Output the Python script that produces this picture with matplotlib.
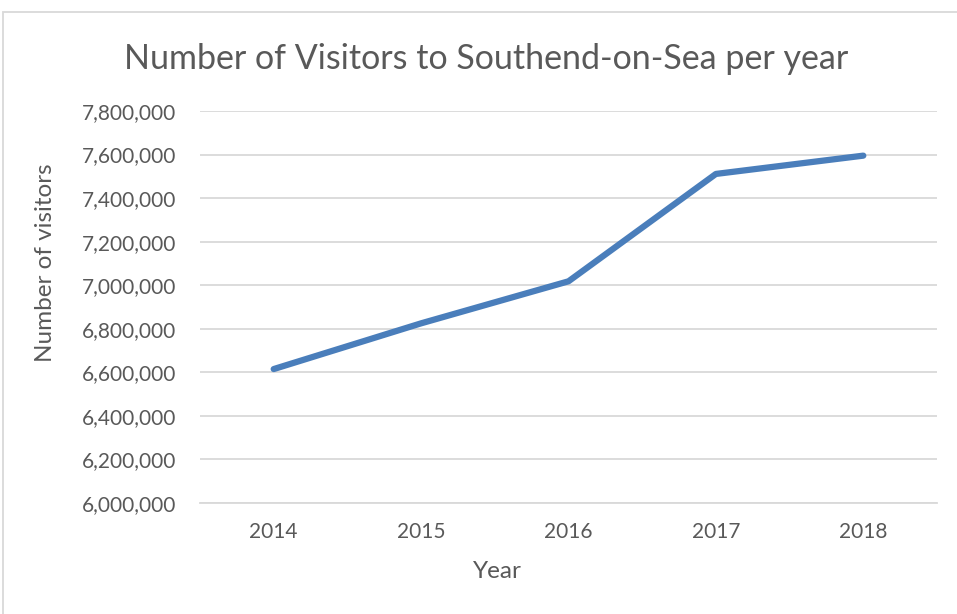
import matplotlib.pyplot as plt
from matplotlib.patches import Rectangle
from matplotlib.ticker import FuncFormatter, MultipleLocator

# visitors per year
years = ['2014', '2015', '2016', '2017', '2018']
visitors = [6615000, 6825000, 7018000, 7511000, 7595000]

text_col = '#595959'
plt.rcParams['font.family'] = ['Lato', 'DejaVu Sans']

fig = plt.figure(figsize=(9.57, 6.14), dpi=100)
W, H = 957, 614

# chart frame
fig.patches.append(Rectangle((3 / W, -0.05), 1.1, (H - 12) / H + 0.05,
                             transform=fig.transFigure, fill=False,
                             edgecolor='#d9d9d9', linewidth=1.3))

ax = fig.add_axes([200 / W, (H - 503) / H, 737 / W, 392 / H])
x = range(len(years))
ax.plot(x, visitors, color='#4a7ebb', linewidth=4.5, solid_capstyle='round',
        solid_joinstyle='round', zorder=3)

ax.set_xlim(-0.5, len(years) - 0.5)
ax.set_ylim(6000000, 7800000)
ax.yaxis.set_major_locator(MultipleLocator(200000))
ax.yaxis.set_major_formatter(FuncFormatter(lambda v, p: f'{int(v):,}'))
ax.set_xticks(list(x))
ax.set_xticklabels(years)
ax.grid(axis='y', color='#d9d9d9', linewidth=1.3)
ax.set_axisbelow(True)
for s in ['top', 'right', 'left']:
    ax.spines[s].set_visible(False)
ax.spines['bottom'].set_color('#d9d9d9')
ax.spines['bottom'].set_linewidth(1.3)
ax.tick_params(axis='both', length=0, colors=text_col, labelsize=15)
ax.tick_params(axis='y', pad=17)
ax.tick_params(axis='x', pad=14)

ax.set_xlabel('Year', color=text_col, fontsize=17.5, va='center', ha='center')
ax.xaxis.set_label_coords(0.403, -0.176)
ax.set_ylabel('Number of visitors', color=text_col, fontsize=17.5,
              va='center', ha='center')
ax.yaxis.set_label_coords(-0.21, 0.612)
fig.text(486 / W, (H - 59) / H, 'Number of Visitors to Southend-on-Sea per year',
         ha='center', va='center', color=text_col, fontsize=24.5)

fig.savefig('out.png', dpi=100)
